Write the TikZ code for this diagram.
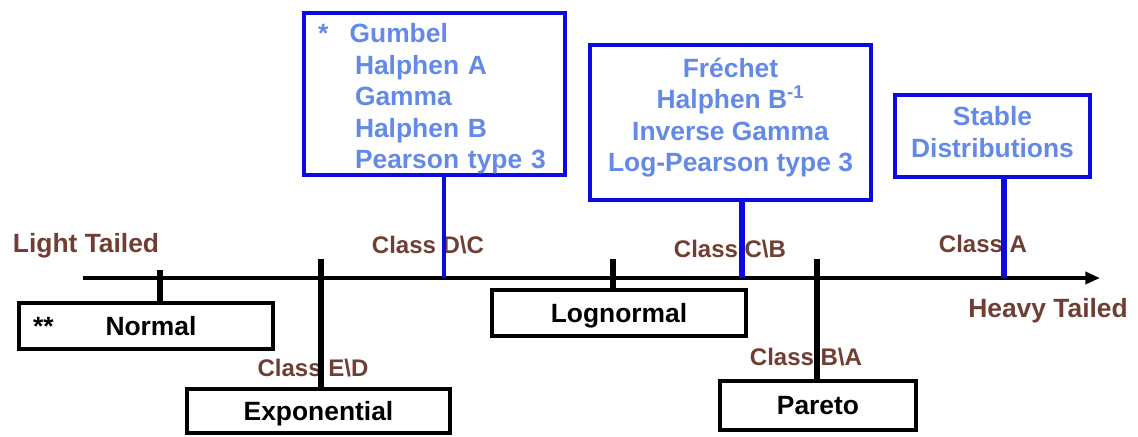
\documentclass[tikz,border=0pt]{standalone}
\usepackage{fontspec}
\setmainfont{Liberation Sans}
\usetikzlibrary{arrows.meta,positioning}
\definecolor{umber}{RGB}{112,62,50}
\definecolor{royal}{RGB}{10,10,225}
\definecolor{sky}{RGB}{100,138,232}
\tikzset{
  >={Triangle[length=11pt,width=9pt]},
  law/.style={draw=black,line width=3pt,fill=white,inner sep=0pt,
    minimum width=#1,minimum height=34.5pt,text height=14.2pt,text depth=0pt,
    font=\fontsize{19.8}{23.5}\selectfont\bfseries},
  law/.default=190.5pt,
  family/.style={draw=royal,line width=3pt,fill=white,text=sky,inner sep=0pt,
    align=center,font=\fontsize{19.8}{23.6}\selectfont\bfseries},
  cls/.style={text=umber,anchor=base,font=\fontsize{18}{20}\selectfont\bfseries},
  tail/.style={text=umber,anchor=base,font=\fontsize{19.8}{22}\selectfont\bfseries},
  axis/.style={->,line width=3.5pt},
  bar/.style={line width=#1},
  bar/.default=4pt,
  link/.style={draw=royal,line width=#1},
  link/.default=4pt,
}

\begin{document}
\begin{tikzpicture}[x=0.75pt,y=-0.75pt]
  \useasboundingbox (0,0) rectangle (1138,436);
  % tail labels and class boundaries
  \node[tail] (light) at (86,252) {Light Tailed};
  \node[tail] (heavy) at (1048,317) {Heavy Tailed};
  \node[cls] (ed) at (313,376) {Class E\textbackslash D};
  \node[cls] (dc) at (428,253) {Class D\textbackslash C};
  \node[cls] (cb) at (730,257) {Class C\textbackslash B};
  \node[cls] (ba) at (806,365) {Class B\textbackslash A};
  \node[cls] (ca) at (983,252) {Class A};
  % single laws below the axis
  \node[law,text width=169.5pt,align=left,inner xsep=10.5pt] (nrm) at (146,326) {**\hspace{39pt}Normal};
  \node[law=197pt,minimum height=33pt] (expo) at (318.5,411) {Exponential};
  \node[law] (logn) at (619,313) {Lognormal};
  \node[law=147pt,minimum height=36.75pt] (par) at (818,405.5) {Pareto};
  % families above the axis (struts nudge the text inside the frame)
  \node[family,text width=174.75pt,align=left,inner xsep=10.5pt,minimum height=121.5pt] (gum) at (434.5,94)
    {\rule{0pt}{22pt}*\hspace{16pt}Gumbel\\\hspace*{27.75pt}Halphen A\\\hspace*{27.75pt}Gamma\\
     \hspace*{27.75pt}Halphen B\\\hspace*{27.75pt}Pearson type 3};
  \node[family,minimum width=210.75pt,minimum height=116.25pt] (fre) at (730.5,122.5)
    {Fréchet\\Halphen B\textsuperscript{-1}\\Inverse Gamma\\Log-Pearson type 3\rule[-11.7pt]{0pt}{11.7pt}};
  \node[family,minimum width=146.25pt,minimum height=61.5pt] (stab) at (992.5,136)
    {Stable\\Distributions\rule[-6.3pt]{0pt}{6.3pt}};
  % axis
  \coordinate (a0) at (83,278);
  \coordinate (a1) at (1100,278);
  \draw[axis] (a0) -- (a1);
  % ticks and boundaries
  \coordinate (tn) at (160,270);
  \coordinate (tl) at (613,259);
  \coordinate (ted) at (321,259);
  \coordinate (tba) at (817,259);
  \draw[bar=4.5pt] (tn) -- (tn |- nrm.north);
  \draw[bar=5pt] (tl) -- (tl |- logn.north);
  \draw[bar] (ted) -- (ted |- expo.north);
  \draw[bar] (tba) -- (tba |- par.north);
  \coordinate (tdc) at (444,278);
  \coordinate (tcb) at (742,278);
  \coordinate (tca) at (1004,278);
  \draw[link=2.5pt] (tdc) -- (tdc |- gum.south);
  \draw[link] (tcb) -- (tcb |- fre.south);
  \draw[link=4.5pt] (tca) -- (tca |- stab.south);
\end{tikzpicture}
\end{document}
